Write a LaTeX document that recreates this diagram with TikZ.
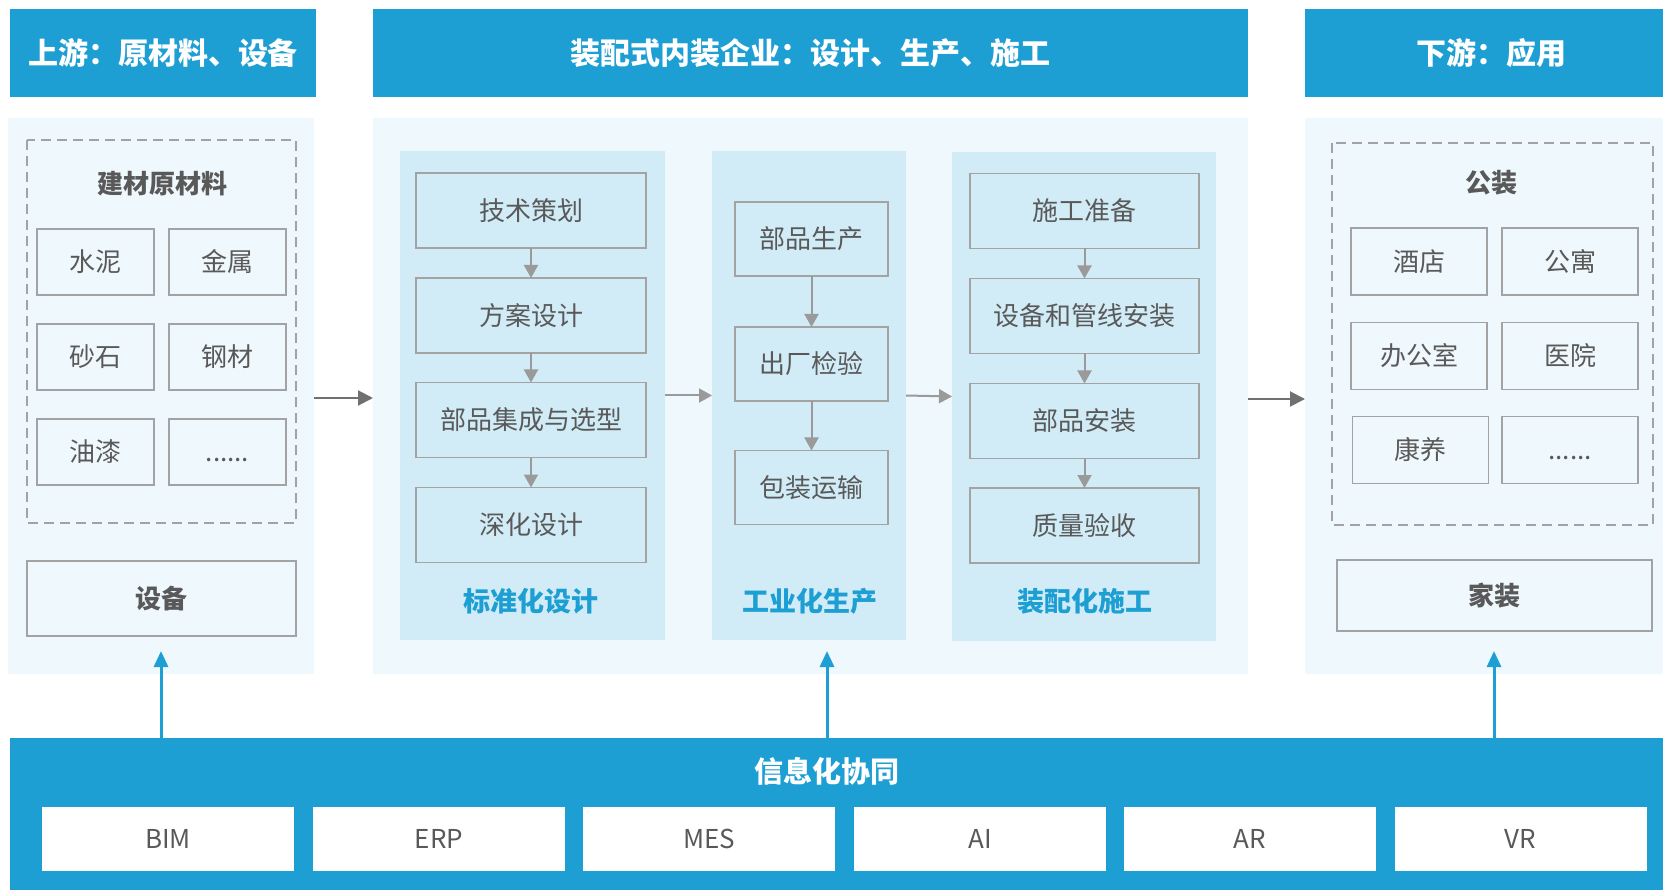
\documentclass[tikz,border=0pt]{standalone}
\usepackage{fontspec}
\setmainfont{Noto Sans CJK SC}
\usetikzlibrary{arrows.meta}
\definecolor{hdrblue}{HTML}{1E9FD3}
\definecolor{panelbg}{HTML}{EFF8FD}
\definecolor{colbg}{HTML}{D1ECF7}
\definecolor{boxline}{HTML}{A3A3A3}
\definecolor{txtgray}{HTML}{595959}
\definecolor{arrgray}{HTML}{9A9A9A}
\definecolor{darkarr}{HTML}{707070}
\tikzset{
  hdr/.style={fill=hdrblue, text=white, font=\bfseries\fontsize{30}{36}\selectfont, inner sep=0pt, outer sep=0pt, minimum height=88pt},
  hdrtext/.style={text=white, font=\bfseries\fontsize{30}{36}\selectfont, inner sep=0pt},
  panel/.style={fill=panelbg, inner sep=0pt, outer sep=0pt, minimum height=556pt},
  colbox/.style={fill=colbg, inner sep=0pt, outer sep=0pt, minimum height=489pt},
  box/.style={draw=boxline, line width=1.8pt, text=txtgray, font=\fontsize{26}{30}\selectfont, inner sep=0pt, outer sep=0pt},
  lbox/.style={box, minimum width=117pt, minimum height=66pt},
  rbox/.style={box, minimum width=136pt, minimum height=67pt},
  w1box/.style={box, minimum width=230pt, minimum height=75pt},
  w2box/.style={box, minimum width=153pt, minimum height=74pt},
  w3box/.style={box, minimum width=229pt, minimum height=75pt},
  sbox/.style={fill=white, text=txtgray, font=\fontsize{26}{30}\selectfont, inner sep=0pt, outer sep=0pt, minimum width=252pt, minimum height=64pt},
  ttl/.style={text=txtgray, font=\bfseries\fontsize{26}{30}\selectfont, inner sep=0pt},
  blbl/.style={text=hdrblue, font=\bfseries\fontsize{27}{32}\selectfont, inner sep=0pt},
  dashbox/.style={draw=boxline, line width=1.8pt, dash pattern=on 10pt off 6pt},
  garr/.style={draw=arrgray, line width=2pt, -{Triangle[length=13pt,width=14pt]}},
  darr/.style={draw=darkarr, line width=2pt, -{Triangle[length=15pt,width=15pt]}},
  barr/.style={draw=hdrblue, line width=3pt, -{Triangle[length=16pt,width=14pt]}},
}
\begin{document}
\begin{tikzpicture}[x=1pt,y=-1pt]
\useasboundingbox (0,0) rectangle (1663,890);
\fill[white] (0,0) rectangle (1663,890);

% headers
\node[hdr, minimum width=306pt] (h1) at (163,53) {上游：原材料、设备};
\node[hdr, minimum width=875pt] (h2) at (810.5,53) {装配式内装企业：设计、生产、施工};
\node[hdr, minimum width=358pt] (h3) at (1484,53) {};
\node[hdrtext] (h3t) at (1491,53) {下游：应用};

% panels
\node[panel, minimum width=306pt] (p1) at (161,396) {};
\node[panel, minimum width=875pt] (p2) at (810.5,396) {};
\node[panel, minimum width=358pt] (p3) at (1484,396) {};

% left panel
\draw[dashbox] (27,140) rectangle (296,523);
\node[ttl] (t1) at (162,184) {建材原材料};
\node[lbox] (m1) at (95.5,262) {水泥};
\node[lbox] (m2) at (227.5,262) {金属};
\node[lbox] (m3) at (95.5,357) {砂石};
\node[lbox] (m4) at (227.5,357) {钢材};
\node[lbox] (m5) at (95.5,452) {油漆};
\node[lbox] (m6) at (227.5,452) {\vphantom{水}......};
\node[box, font=\bfseries\fontsize{26}{30}\selectfont, minimum width=269pt, minimum height=75pt] (eq) at (161.5,598.5) {设备};

% middle columns
\node[colbox, minimum width=265pt] (c1) at (532.5,395.5) {};
\node[colbox, minimum width=194pt] (c2) at (809,395.5) {};
\node[colbox, minimum width=264pt] (c3) at (1084,396.5) {};

\node[w1box] (a1) at (531,210.5) {技术策划};
\node[w1box] (a2) at (531,315.5) {方案设计};
\node[w1box] (a3) at (531,420) {部品集成与选型};
\node[w1box] (a4) at (531,525) {深化设计};
\node[blbl] (l1) at (531,601) {标准化设计};

\node[w2box] (b1) at (811.5,239) {部品生产};
\node[w2box] (b2) at (811.5,364) {出厂检验};
\node[w2box] (b3) at (811.5,487.5) {包装运输};
\node[blbl] (l2) at (810,601) {工业化生产};

\node[w3box] (d1) at (1084.5,211) {施工准备};
\node[w3box] (d2) at (1084.5,316) {设备和管线安装};
\node[w3box] (d3) at (1084.5,421) {部品安装};
\node[w3box] (d4) at (1084.5,525.5) {质量验收};
\node[blbl] (l3) at (1085,601) {装配化施工};

\draw[garr] (a1) -- (a2);
\draw[garr] (a2) -- (a3);
\draw[garr] (a3) -- (a4);
\draw[garr] (b1) -- (b2);
\draw[garr] (b2) -- (b3);
\draw[garr] (d1) -- (d2);
\draw[garr] (d2) -- (d3);
\draw[garr] (d3) -- (d4);
\draw[garr] (c1.east) -- (c2.west);
\draw[garr] (c2.east) -- (c3.west);

% right panel
\draw[dashbox] (1332,143) rectangle (1653,525);
\node[ttl] (t3) at (1491,183) {公装};
\node[rbox] (r1) at (1419,261.5) {酒店};
\node[rbox] (r2) at (1570,261.5) {公寓};
\node[rbox] (r3) at (1419,356) {办公室};
\node[rbox] (r4) at (1570,356) {医院};
\node[rbox] (r5) at (1420.5,450) {康养};
\node[rbox] (r6) at (1570,450) {\vphantom{水}......};
\node[box, font=\bfseries\fontsize{26}{30}\selectfont, minimum width=315pt, minimum height=71pt] (hm) at (1494.5,595.5) {家装};

% panel arrows
\draw[darr] ([yshift=-2pt]p1.east) -- ([yshift=-2pt]p2.west);
\draw[darr] ([yshift=-3pt]p2.east) -- ([yshift=-3pt]p3.west);

% bottom band
\node[fill=hdrblue, inner sep=0pt, outer sep=0pt, minimum width=1653.5pt, minimum height=152pt, anchor=north west] (band) at (9.5,738) {};
\node[text=white, font=\bfseries\fontsize{29}{34}\selectfont, inner sep=0pt] (bt) at (827,771) {信息化协同};
\node[sbox] (s1) at (168,839) {BIM};
\node[sbox] (s2) at (439,839) {ERP};
\node[sbox] (s3) at (709,839) {MES};
\node[sbox] (s4) at (980,839) {AI};
\node[sbox] (s5) at (1249.5,839) {AR};
\node[sbox] (s6) at (1520.5,839) {VR};

\coordinate (u1) at (161,651);
\coordinate (u2) at (827,651);
\coordinate (u3) at (1494,651);
\draw[barr] (band.north -| u1) -- (u1);
\draw[barr] (band.north -| u2) -- (u2);
\draw[barr] (band.north -| u3) -- (u3);
\end{tikzpicture}
\end{document}
